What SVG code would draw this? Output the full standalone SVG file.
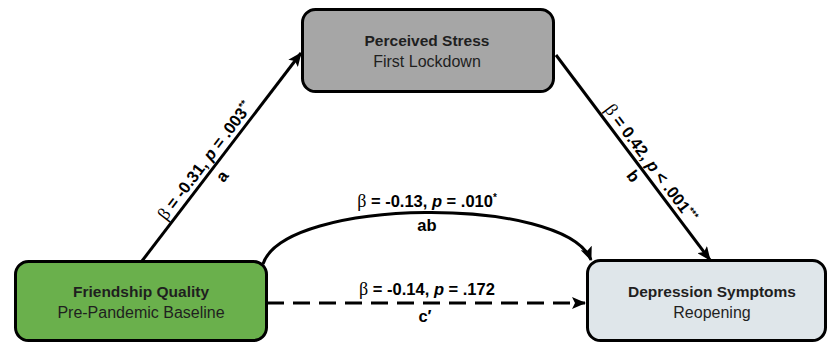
<svg xmlns="http://www.w3.org/2000/svg" width="829" height="345" viewBox="0 0 829 345">
<style>
.box{stroke:#000;stroke-width:3}
.t{font-family:"Liberation Sans",Arial,sans-serif;fill:#1f1f1f;text-anchor:middle}
.b{font-weight:bold;font-size:15.5px}
.r{font-size:16px}
.lbl{font-family:"Liberation Sans",Arial,sans-serif;font-weight:bold;font-size:16.5px;fill:#000;text-anchor:middle}
.beta{font-family:"Liberation Serif","Times New Roman",serif;font-weight:normal;font-size:18px}
.sup{font-size:10px}
.edge{fill:none;stroke:#000;stroke-width:3}
</style>
<defs>
<marker id="ah" markerUnits="userSpaceOnUse" markerWidth="14" markerHeight="12" refX="13" refY="6" orient="auto">
<path d="M0,0 L14,6 L0,12 L3,6 z" fill="#000"/>
</marker>
</defs>
<g id="connectors">
<line class="edge" x1="142" y1="261" x2="301" y2="53" marker-end="url(#ah)"/>
<line class="edge" x1="556" y1="55" x2="710" y2="260" marker-end="url(#ah)"/>
<path class="edge" d="M263,264 C285,197 565,195 591,260" marker-end="url(#ah)"/>
<line class="edge" x1="267" y1="303" x2="585" y2="303" stroke-dasharray="17 9" marker-end="url(#ah)"/>
<g transform="translate(213.4,167.1) rotate(-52.8)">
<text class="lbl" x="0" y="-5"><tspan class="beta">β</tspan> = -0.31, <tspan font-style="italic">p</tspan> = .003<tspan class="sup" dy="-6">**</tspan></text>
<text class="lbl" x="-2" y="18">a</text>
</g>
<g transform="translate(642.5,169.5) rotate(53.3)">
<text class="lbl" x="0" y="-5"><tspan class="beta">β</tspan> = 0.42, <tspan font-style="italic">p</tspan> &lt; .001<tspan class="sup" dy="-6">***</tspan></text>
<text class="lbl" x="0" y="17">b</text>
</g>
<text class="lbl" x="427" y="207"><tspan class="beta">β</tspan> = -0.13, <tspan font-style="italic">p</tspan> = .010<tspan class="sup" dy="-6">*</tspan></text>
<text class="lbl" x="427" y="231">ab</text>
<text class="lbl" x="427" y="295"><tspan class="beta">β</tspan> = -0.14, <tspan font-style="italic">p</tspan> = .172</text>
<text class="lbl" x="425" y="322">c′</text>
</g>
<g id="node-stress">
<rect class="box" x="302.5" y="9.5" width="251" height="82" rx="13" fill="#a6a6a6"/>
<text class="t b" x="427" y="46">Perceived Stress</text>
<text class="t r" x="427" y="67">First Lockdown</text>
</g>
<g id="node-friendship">
<rect class="box" x="15.5" y="261.5" width="251" height="79" rx="13" fill="#6ab04c"/>
<text class="t b" x="141" y="297">Friendship Quality</text>
<text class="t r" x="141" y="318">Pre-Pandemic Baseline</text>
</g>
<g id="node-depression">
<rect class="box" x="587.5" y="260.5" width="238" height="80" rx="13" fill="#dfe6ea"/>
<text class="t b" x="712" y="297">Depression Symptoms</text>
<text class="t r" x="712" y="318">Reopening</text>
</g>
</svg>
